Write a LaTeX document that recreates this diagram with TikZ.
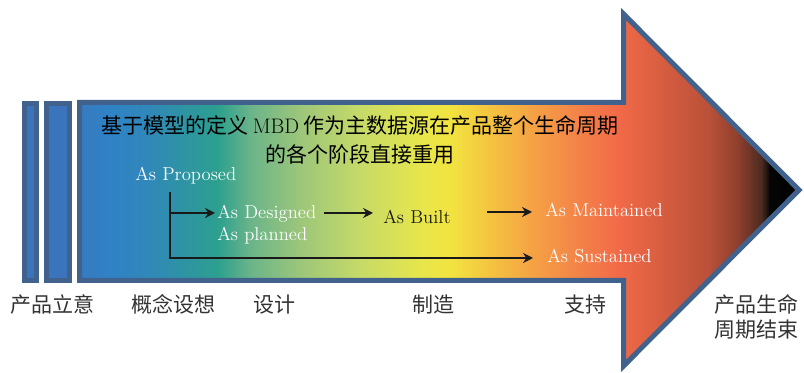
\documentclass[tikz,border=0pt]{standalone}
\usepackage{fontspec}
\newfontfamily\cjk{Noto Sans CJK SC}
\usetikzlibrary{arrows.meta}
\definecolor{bord}{HTML}{40628C}
\definecolor{barfill}{HTML}{3A74BA}
\definecolor{labgray}{HTML}{333333}
\definecolor{g0}{HTML}{3A78BC}
\definecolor{g1}{HTML}{2F82C6}
\definecolor{g2}{HTML}{3088B8}
\definecolor{g3}{HTML}{2CA08E}
\definecolor{g4}{HTML}{6AB48A}
\definecolor{g5}{HTML}{9CC67A}
\definecolor{g6}{HTML}{C6DA68}
\definecolor{g7}{HTML}{E6E64C}
\definecolor{g8}{HTML}{F2E440}
\definecolor{g9}{HTML}{F4C440}
\definecolor{g10}{HTML}{F5A444}
\definecolor{g11}{HTML}{F48848}
\definecolor{g12}{HTML}{F26A48}
\definecolor{g13}{HTML}{D85E40}
\definecolor{g14}{HTML}{B85038}
\definecolor{g15}{HTML}{8A3E2C}
\definecolor{g16}{HTML}{4A2A20}
\definecolor{g17}{HTML}{050505}
\definecolor{g18}{HTML}{000000}
\begin{document}
\begin{tikzpicture}[x=0.75pt,y=-0.75pt,
  cjkfont/.style={font=\cjk\fontsize{15.75pt}{19pt}\selectfont},
  title/.style={cjkfont,text=black,inner sep=0pt,anchor=base},
  blab/.style={cjkfont,text=labgray,inner sep=0pt,anchor=base west},
  wlab/.style={font=\fontsize{14pt}{17pt}\selectfont,text=white,inner sep=0pt,anchor=base west},
  klab/.style={wlab,text=black!90},
  conn/.style={line width=1.5pt,draw=black!90,line join=miter},
  arr/.style={conn,-{Stealth[length=7.5pt,width=7.5pt]}},
  outline/.style={draw=bord,line width=3.75pt,line join=miter}]
\useasboundingbox (0,0) rectangle (804,373);
% gradient body
\begin{scope}
\clip (79.5,102.5) -- (623.5,102.5) -- (623.5,14) -- (799,190) -- (623.5,366) -- (623.5,280.5) -- (79.5,280.5) -- cycle;
\foreach \xa/\ca/\xb/\cb in {70/g0/110/g1,110/g1/150/g2,150/g2/218/g3,218/g3/250/g4,250/g4/300/g5,300/g5/360/g6,360/g6/420/g7,420/g7/450/g8,450/g8/490/g9,490/g9/530/g10,530/g10/570/g11,570/g11/618/g12,618/g12/660/g13,660/g13/710/g14,710/g14/740/g15,740/g15/762/g16,762/g16/770/g17,770/g17/810/g18}
  {\fill[left color=\ca,right color=\cb] (\xa-0.4,0) rectangle (\xb+0.4,373);}
\end{scope}
\path[outline] (79.5,102.5) -- (623.5,102.5) -- (623.5,14) -- (799,190) -- (623.5,366) -- (623.5,280.5) -- (79.5,280.5) -- cycle;
% bars
\path[outline,fill=barfill] (24.5,103.5) rectangle (36.5,280.5);
\path[outline,fill=barfill] (46.5,103.5) rectangle (69.5,280.5);
% title
\node[title] (t1) at (360,134) {基于模型的定义 {\rmfamily MBD} 作为主数据源在产品整个生命周期};
\node[title] (t2) at (360,163) {的各个阶段直接重用};
% stage labels
\node[wlab] (prop) at (135,181) {As Proposed};
\node[wlab] (des) at (217,219) {As Designed};
\node[wlab] (plan) at (217,241) {As planned};
\node[klab] (built) at (383,224) {As Built};
\node[wlab] (maint) at (545,217) {As Maintained};
\node[wlab] (sust) at (547,263) {As Sustained};
% connectors
\coordinate (p0) at (170,192);
\coordinate (p1) at (170,258);
\coordinate (p2) at (170,213);
\coordinate (a3) at (487,212);
\draw[arr] (p0) -- (p1) -- ([xshift=-10.5pt]sust.west |- p1);
\draw[arr] (p2) -- ([xshift=-1.5pt]des.west |- p2);
\draw[arr] ([xshift=6pt]des.east |- p2) -- ([xshift=-7.5pt]built.west |- p2);
\draw[arr] (a3) -- ([xshift=-9.75pt]maint.west |- a3);
% bottom labels
\node[blab] (l1) at (10,313) {产品立意};
\node[blab] (l2) at (131,313) {概念设想};
\node[blab] (l3) at (253,313) {设计};
\node[blab] (l4) at (412,313) {制造};
\node[blab] (l5) at (564,313) {支持};
\node[blab] (l6) at (714,313) {产品生命};
\node[blab] (l7) at (714,338) {周期结束};
\end{tikzpicture}
\end{document}
